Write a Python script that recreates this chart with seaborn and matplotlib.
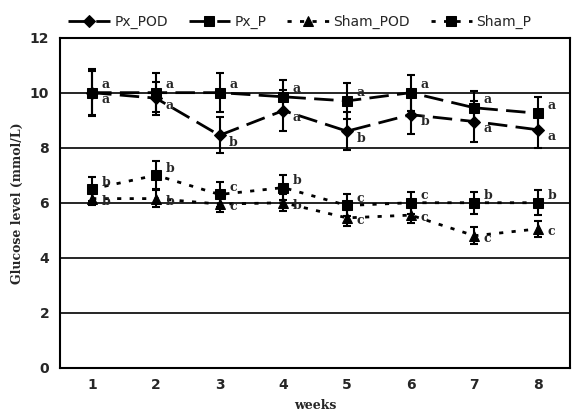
import numpy as np
import pandas as pd
import matplotlib
matplotlib.use("Agg")
import matplotlib.pyplot as plt
import seaborn as sns

# --- dados ---
weeks = [1, 2, 3, 4, 5, 6, 7, 8]
px_pod = [10.0, 9.8, 8.45, 9.35, 8.6, 9.2, 8.95, 8.65]
px_pod_err = [0.8, 0.6, 0.65, 0.75, 0.7, 0.7, 0.75, 0.65]
px_p = [10.0, 10.0, 10.0, 9.85, 9.7, 10.0, 9.45, 9.25]
px_p_err = [0.85, 0.7, 0.7, 0.6, 0.65, 0.65, 0.6, 0.6]
sham_pod = [6.15, 6.15, 5.95, 6.0, 5.45, 5.55, 4.8, 5.05]
sham_pod_err = [0.25, 0.3, 0.3, 0.3, 0.3, 0.3, 0.3, 0.3]
sham_p = [6.5, 7.0, 6.3, 6.55, 5.9, 6.0, 6.0, 6.0]
sham_p_err = [0.45, 0.5, 0.45, 0.45, 0.4, 0.4, 0.4, 0.45]

px_pod_lbl = ['a', 'a', 'b', 'a', 'b', 'b', 'a', 'a']
px_p_lbl = ['a', 'a', 'a', 'a', 'a', 'a', 'a', 'a']
sham_pod_lbl = ['b', 'b', 'c', 'b', 'c', 'c', 'c', 'c']
sham_p_lbl = ['b', 'b', 'c', 'b', 'c', 'c', 'b', 'b']

series = ['Px_POD', 'Px_P', 'Sham_POD', 'Sham_P']
values = [px_pod, px_p, sham_pod, sham_p]
errors = [px_pod_err, px_p_err, sham_pod_err, sham_p_err]
letters = [px_pod_lbl, px_p_lbl, sham_pod_lbl, sham_p_lbl]

df = pd.DataFrame({
    'week': weeks * 4,
    'glucose': sum(values, []),
    'grupo': sum([[s] * len(weeks) for s in series], []),
})

sns.set_style("white")
plt.rcParams['font.family'] = ['DejaVu Sans']

fig = plt.figure(figsize=(5.74, 4.18), dpi=100)
ax = fig.add_axes([0.105, 0.12, 0.888, 0.79])

markers = {'Px_POD': 'D', 'Px_P': 's', 'Sham_POD': '^', 'Sham_P': 's'}
dashes = {'Px_POD': (7, 3), 'Px_P': (7, 3), 'Sham_POD': (1.5, 3), 'Sham_P': (1.5, 3)}
msize = {'Px_POD': 6, 'Px_P': 7, 'Sham_POD': 7, 'Sham_P': 7}

# linhas horizontais de grade
for g in [2, 4, 6, 8, 10]:
    ax.axhline(g, color='black', lw=1.2, zorder=0)

for s, v, e in zip(series, values, errors):
    sub = df[df['grupo'] == s]
    sns.lineplot(data=sub, x='week', y='glucose', ax=ax, color='black',
                 marker=markers[s], markersize=msize[s], dashes=dashes[s],
                 lw=2, label=s, markeredgecolor='black')
    ax.errorbar(weeks, v, yerr=e, fmt='none', ecolor='black',
                elinewidth=1.5, capsize=3, capthick=1.5)

# letras de significância
offsets = {'Px_POD': (0.15, -0.25), 'Px_P': (0.15, 0.3), 'Sham_POD': (0.15, -0.1), 'Sham_P': (0.15, 0.25)}
for s, v, lab in zip(series, values, letters):
    dx, dy = offsets[s]
    for w, y, t in zip(weeks, v, lab):
        ax.text(w + dx, y + dy, t, fontsize=9, fontweight='bold',
                family='DejaVu Serif', va='center', ha='left')

ax.set_xlim(0.5, 8.5)
ax.set_ylim(0, 12)
ax.set_yticks([0, 2, 4, 6, 8, 10, 12])
ax.set_xticks(weeks)
ax.set_xticks(np.arange(1.5, 8.5, 1), minor=True)
ax.tick_params(axis='x', which='major', length=0, pad=7, labelsize=10)
ax.tick_params(axis='x', which='minor', direction='in', length=4, width=1.2)
ax.tick_params(axis='y', length=0, pad=8, labelsize=10)
for lbl in ax.get_xticklabels() + ax.get_yticklabels():
    lbl.set_fontweight('bold')
for sp in ax.spines.values():
    sp.set_color('black')
    sp.set_linewidth(1.5)

ax.set_xlabel('weeks', family='DejaVu Serif', fontweight='bold', fontsize=9, labelpad=5)
ax.set_ylabel('Glucose level (mmol/L)', family='DejaVu Serif', fontweight='bold', fontsize=9)

ax.legend(loc='lower center', bbox_to_anchor=(0.47, 1.0), ncol=4, frameon=False,
          fontsize=10, handlelength=3, columnspacing=1.5, handletextpad=0.3,
          borderaxespad=0.2)

fig.savefig('out.png', dpi=100)
